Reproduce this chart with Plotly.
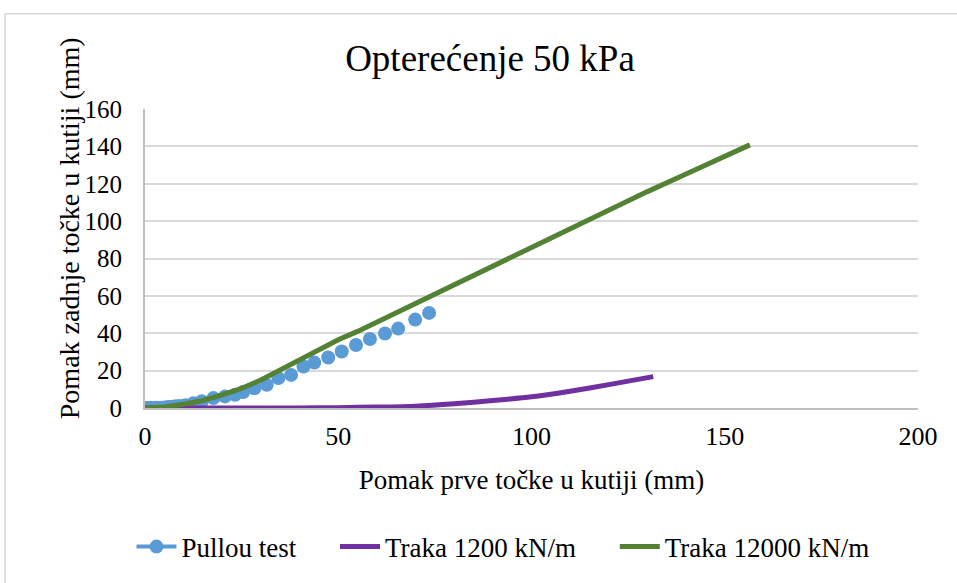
import plotly.graph_objects as go

# Pull-out test measurements (displacement of first point vs. last point in the box, mm)
pull_x = [0, 0.5, 1, 1.5, 2, 3, 4, 5, 6, 7, 8, 9, 10.5, 12.5, 14.7, 17.7, 20.7, 23.3,
          25.4, 28.3, 31.5, 34.5, 37.8, 41, 43.8, 47.4, 50.9, 54.6, 58.2, 62.1, 65.5,
          69.9, 73.5]
pull_y = [0, 0, 0, 0, 0, 0.1, 0.2, 0.3, 0.5, 0.7, 0.9, 1.1, 1.5, 2.5, 3.6, 5.3, 6.2, 7.1,
          8.5, 10.6, 12.4, 16, 17.7, 22.2, 24.3, 27, 30.2, 33.7, 36.9, 39.9, 42.5,
          47.3, 50.9]

# Numerical model, strip stiffness 1200 kN/m
t1200_x = [0, 10, 20, 30, 40, 50, 60, 70, 80, 90, 100, 110, 120, 131.5]
t1200_y = [0, 0, 0, 0, 0, 0.2, 0.5, 1, 2.3, 4, 6, 9, 12.5, 16.8]

# Numerical model, strip stiffness 12000 kN/m
t12000_x = [0, 5, 10, 15, 20, 25, 30, 35, 40, 45, 50, 55, 60, 65, 70, 75, 80, 90,
            100, 110, 120, 130, 140, 150, 156.5]
t12000_y = [0, 0.5, 2, 4, 7, 10.5, 15, 20.5, 25.7, 31, 36.5, 41, 46, 51.3, 56.3, 61.3,
            66.3, 76.3, 86, 96, 106, 115.8, 125.2, 134.6, 140.8]

x_ticks = [0, 50, 100, 150, 200]
y_ticks = [0, 20, 40, 60, 80, 100, 120, 140, 160]

FONT = "Liberation Serif, Times New Roman, serif"
BLUE = "#5B9BD5"
PURPLE = "#7030A0"
GREEN = "#548235"
PAD = "\u00a0" * 5  # spacing between legend entries

W, H = 957, 583
ML, MR, MT, MB = 145, 39, 109, 173
PW, PH = W - ML - MR, H - MT - MB

fig = go.Figure()

fig.add_trace(go.Scatter(
    x=pull_x, y=pull_y, mode="markers", showlegend=False,
    marker=dict(size=14, color=BLUE), name="Pullou test"))
fig.add_trace(go.Scatter(
    x=[None], y=[None], mode="lines+markers", name="Pullou test" + PAD,
    line=dict(color=BLUE, width=4), marker=dict(size=14, color=BLUE)))
fig.add_trace(go.Scatter(
    x=t1200_x, y=t1200_y, mode="lines", name="Traka 1200 kN/m" + PAD,
    line=dict(color=PURPLE, width=5, shape="spline", smoothing=0.6)))
fig.add_trace(go.Scatter(
    x=t12000_x, y=t12000_y, mode="lines", name="Traka 12000 kN/m",
    line=dict(color=GREEN, width=5)))

def px_x(p):
    return (p - ML) / PW

def px_y(p):
    return (H - MB - p) / PH

fig.add_shape(type="rect", xref="paper", yref="paper",
              x0=px_x(5), x1=px_x(962), y0=px_y(13), y1=px_y(590),
              line=dict(color="#d9d9d9", width=1.5), fillcolor="rgba(0,0,0,0)",
              layer="below")

# vertical axis title
fig.add_annotation(text="Pomak zadnje točke u kutiji (mm)", textangle=-90,
                   xref="paper", yref="paper", x=px_x(69), y=px_y(229),
                   xanchor="center", yanchor="middle", showarrow=False,
                   font=dict(size=28, family=FONT, color="black"))

fig.update_layout(
    width=W, height=H,
    margin=dict(l=ML, r=MR, t=MT, b=MB),
    paper_bgcolor="white", plot_bgcolor="white",
    font=dict(family=FONT, color="black", size=26),
    title=dict(text="Opterećenje 50 kPa", x=px_x(490), xanchor="center",
               xref="paper", y=1 - 58 / H, yanchor="middle",
               font=dict(size=37, family=FONT)),
    legend=dict(orientation="h", x=px_x(503), xanchor="center",
                y=px_y(550), yanchor="middle", font=dict(size=27),
                itemwidth=40, tracegroupgap=0, bgcolor="rgba(0,0,0,0)"),
    xaxis=dict(range=[0, 200], tickvals=x_ticks, showgrid=False, zeroline=False,
               showline=True, linecolor="#bfbfbf", linewidth=2,
               ticks="outside", ticklen=4, tickcolor="rgba(0,0,0,0)",
               tickfont=dict(size=26),
               title=dict(text="Pomak prve točke u kutiji (mm)", font=dict(size=27),
                          standoff=20)),
    yaxis=dict(range=[0, 160], tickvals=y_ticks, showgrid=True, gridcolor="#d9d9d9",
               gridwidth=1.5, zeroline=False, showline=True, linecolor="#bfbfbf",
               linewidth=2, ticks="outside", ticklen=16, tickcolor="rgba(0,0,0,0)",
               tickfont=dict(size=25)),
)

fig.write_html("out.html")
